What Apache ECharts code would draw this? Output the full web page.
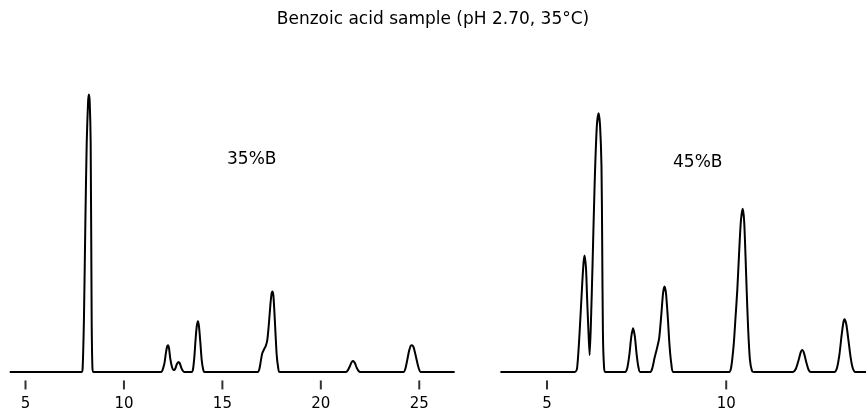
<!DOCTYPE html>
<html>
<head>
<meta charset="utf-8">
<script src="https://cdn.jsdelivr.net/npm/echarts@6/dist/echarts.min.js"></script>
<style>
  html, body { margin: 0; padding: 0; background: #fff; }
  #main { width: 866px; height: 412px; }
</style>
</head>
<body>
<div id="main"></div>
<script>
// retention time (min) and detector signal
var time35 = [4.2, 7.84, 7.90, 7.97, 8.04, 8.11, 8.18, 8.22, 8.26, 8.31, 8.36, 8.40, 8.46,
    11.88, 11.96, 12.06, 12.13, 12.20, 12.24, 12.29, 12.35, 12.44, 12.53, 12.60, 12.69, 12.77, 12.83, 12.92, 13.00, 13.06,
    13.44, 13.51, 13.58, 13.64, 13.70, 13.76, 13.81, 13.88, 13.95, 14.02, 14.09,
    16.80, 16.88, 16.96, 17.03, 17.12, 17.20, 17.28, 17.36, 17.44, 17.50, 17.54, 17.59, 17.64, 17.70, 17.76, 17.83, 17.91,
    21.28, 21.38, 21.48, 21.57, 21.65, 21.73, 21.83, 21.92, 22.00,
    24.20, 24.29, 24.39, 24.48, 24.57, 24.64, 24.71, 24.80, 24.88, 24.97, 25.08, 26.8];
var signal35 = [0, 0, 3, 55, 150, 231, 272, 279, 272, 231, 55, 4, 0,
    0, 2, 9, 19, 26, 27, 24, 14, 5, 2, 3, 8, 10, 9, 4, 1, 0,
    0, 3, 16, 33, 46, 51, 46, 30, 12, 3, 0,
    0, 3, 12, 19, 23, 26, 32, 48, 68, 79, 81, 77, 61, 38, 17, 5, 0,
    0, 2, 6, 10, 11, 9, 4, 1, 0,
    0, 3, 12, 21, 26.5, 27, 25, 18, 11, 4, 0, 0];

var time45 = [3.7, 5.78, 5.84, 5.91, 5.98, 6.02, 6.05, 6.09, 6.12, 6.16, 6.19,
    6.23, 6.27, 6.33, 6.39, 6.44, 6.48, 6.52, 6.54, 6.56, 6.59, 6.63,
    7.18, 7.24, 7.30, 7.35, 7.40, 7.45, 7.50, 7.55, 7.60,
    7.88, 7.94, 8.00, 8.07, 8.13, 8.19, 8.24, 8.28, 8.32, 8.37, 8.42, 8.47, 8.53,
    10.08, 10.14, 10.21, 10.26, 10.31, 10.36, 10.41, 10.46, 10.50, 10.54, 10.57, 10.61, 10.66, 10.72, 10.78,
    11.86, 11.94, 12.02, 12.08, 12.12, 12.17, 12.24, 12.30, 12.36,
    13.02, 13.09, 13.16, 13.22, 13.27, 13.30, 13.35, 13.41, 13.47, 13.53, 13.60, 13.9];
var signal45 = [0, 0, 4, 40, 87, 110, 117, 103, 73, 38, 17,
    55, 107, 190, 247, 260, 248, 207, 130, 40, 6, 0,
    0, 4, 18, 35, 44, 36, 18, 5, 0,
    0, 4, 14, 24, 34, 58, 80, 86, 79, 55, 26, 8, 0,
    0, 5, 28, 55, 83, 120, 152, 164, 152, 115, 83, 45, 13, 1, 0,
    0, 3, 12, 20, 22, 19, 9, 2, 0,
    0, 4, 18, 37, 50, 53, 48, 32, 15, 4, 0, 0];

var ticks35 = [5, 10, 15, 20, 25];
var ticks45 = [5, 10];

function pairs(xs, ys) {
    var out = [];
    for (var i = 0; i < xs.length; i++) out.push([xs[i], ys[i]]);
    return out;
}

var font = 'DejaVu Sans';
var tickY = -13; // tick marks sit a little under the baseline

function xAxisFor(idx, min, max, ticks) {
    return {
        type: 'value', gridIndex: idx, min: min, max: max,
        axisLine: { show: false },
        splitLine: { show: false },
        axisTick: { show: false },
        axisLabel: { customValues: ticks, margin: 25, color: '#000', fontSize: 15, fontFamily: font }
    };
}

function yAxisFor(idx) {
    return { type: 'value', gridIndex: idx, min: 0, max: 300, show: false };
}

function trace(idx, data) {
    return {
        type: 'line', xAxisIndex: idx, yAxisIndex: idx, data: data,
        showSymbol: false, smooth: 0.25, clip: false,
        lineStyle: { color: '#000', width: 2 }
    };
}

function tickMarks(idx, ticks) {
    return {
        type: 'scatter', xAxisIndex: idx, yAxisIndex: idx, clip: false,
        symbol: 'rect', symbolSize: [2, 9], silent: true,
        itemStyle: { color: '#000' },
        data: ticks.map(function (t) { return [t, tickY]; })
    };
}

var myChart = echarts.init(document.getElementById('main'));

var option = {
    animation: false,
    backgroundColor: '#fff',
    title: {
        text: 'Benzoic acid sample (pH 2.70, 35°C)',
        left: 'center', top: 6,
        textStyle: { fontFamily: font, fontSize: 17, fontWeight: 'normal', color: '#000' }
    },
    grid: [
        { left: 9.75, width: 444.95, top: 73.5, bottom: 38.5 },
        { left: 500.4, width: 365.8, top: 73.5, bottom: 38.5 }
    ],
    xAxis: [xAxisFor(0, 4.2, 26.8, ticks35), xAxisFor(1, 3.7, 13.9, ticks45)],
    yAxis: [yAxisFor(0), yAxisFor(1)],
    series: [
        trace(0, pairs(time35, signal35)),
        trace(1, pairs(time45, signal45)),
        tickMarks(0, ticks35),
        tickMarks(1, ticks45)
    ],
    graphic: [
        { type: 'text', left: 227, top: 151, style: { text: '35%B', font: '17px ' + font, fill: '#000' } },
        { type: 'text', left: 673, top: 154, style: { text: '45%B', font: '17px ' + font, fill: '#000' } }
    ]
};

myChart.setOption(option);
</script>
</body>
</html>
